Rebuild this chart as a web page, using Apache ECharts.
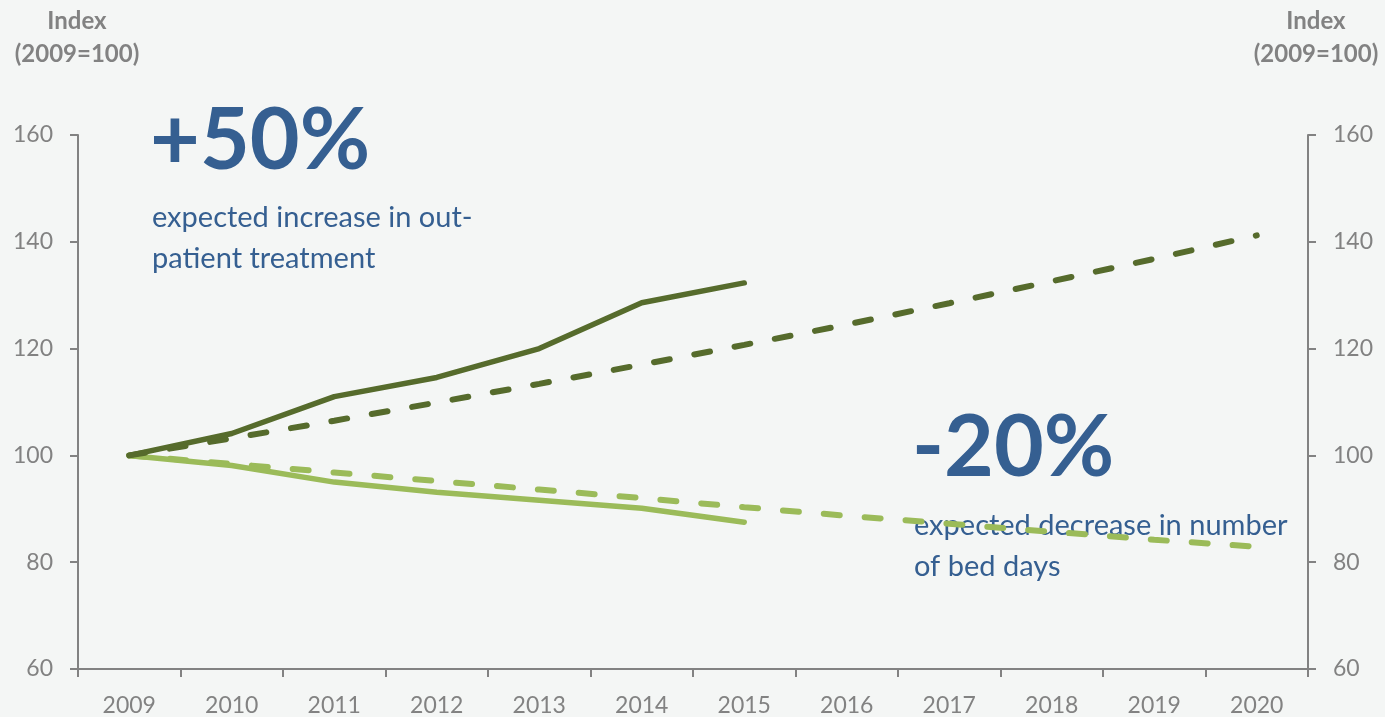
<!DOCTYPE html>
<html><head><meta charset="utf-8">
<script src="https://cdn.jsdelivr.net/npm/echarts@6/dist/echarts.min.js"></script>
<style>html,body{margin:0;padding:0;background:#F4F6F5;}#c{width:1385px;height:717px;}</style>
</head><body><div id="c"></div>
<script>
const years = ['2009','2010','2011','2012','2013','2014','2015','2016','2017','2018','2019','2020'];
const outpatientActual = [100, 104.1, 111.0, 114.6, 120.0, 128.6, 132.3];
const outpatientForecast = [100, 103.2, 106.5, 109.9, 113.4, 117.0, 120.7, 124.5, 128.5, 132.6, 136.8, 141.2];
const bedDaysActual = [100, 98.1, 95.0, 93.1, 91.6, 90.1, 87.5];
const bedDaysForecast = [100, 98.4, 96.8, 95.2, 93.6, 92.0, 90.3, 88.7, 87.2, 85.7, 84.2, 82.9];
const yTicks = {min: 60, max: 160, interval: 20};

const dark = '#566B2C', light = '#9BBB59', blue = '#355F91', gray = '#828282';
const chart = echarts.init(document.getElementById('c'), null, {renderer: 'canvas'});
const yAxisBase = (pos) => ({
  type: 'value', position: pos, min: yTicks.min, max: yTicks.max, interval: yTicks.interval,
  splitLine: {show: false},
  axisLine: {show: true, lineStyle: {color: gray, width: 2}},
  axisTick: {show: true, inside: false, length: 8, lineStyle: {color: gray, width: 2}},
  axisLabel: {color: gray, fontSize: 23, fontFamily: 'Lato', margin: 25}
});
const dash = [16, 25];
chart.setOption({
  backgroundColor: '#F4F6F5',
  animation: false,
  grid: {left: 78, right: 77, top: 135, bottom: 47, containLabel: false},
  xAxis: {
    type: 'category', data: years, boundaryGap: true,
    axisLine: {lineStyle: {color: gray, width: 2}},
    axisTick: {show: true, length: 8, lineStyle: {color: gray, width: 2}},
    axisLabel: {color: gray, fontSize: 23, fontFamily: 'Lato', margin: 25}
  },
  yAxis: [yAxisBase('left'), yAxisBase('right')],
  series: [
    {type: 'line', data: bedDaysForecast, showSymbol: false, lineStyle: {color: light, width: 6, type: dash, cap: 'round'}, z: 2},
    {type: 'line', data: bedDaysActual, showSymbol: false, lineStyle: {color: light, width: 5.5, cap: 'round'}, z: 2},
    {type: 'line', data: outpatientForecast, showSymbol: false, lineStyle: {color: dark, width: 6, type: dash, cap: 'round'}, z: 3},
    {type: 'line', data: outpatientActual, showSymbol: false, lineStyle: {color: dark, width: 5.5, cap: 'round'}, z: 3}
  ],
  graphic: [
    {type: 'text', style: {text: 'Index\n(2009=100)', x: 77, y: 5, align: 'center', fill: gray, font: 'bold 24px Lato', lineHeight: 33}},
    {type: 'text', style: {text: 'Index\n(2009=100)', x: 1316, y: 5, align: 'center', fill: gray, font: 'bold 24px Lato', lineHeight: 33}},
    {type: 'text', style: {text: '+50%', x: 150, y: 98, fill: blue, font: 'bold 86px Lato'}},
    {type: 'text', style: {text: 'expected increase in out-\npatient treatment', x: 152, y: 197, fill: blue, font: '29px Lato', lineHeight: 41}},
    {type: 'text', style: {text: '-20%', x: 912, y: 405, fill: blue, font: 'bold 86px Lato'}},
    {type: 'text', style: {text: 'expected decrease in number\nof bed days', x: 914, y: 505, fill: blue, font: '29px Lato', lineHeight: 41}}
  ]
});
</script></body></html>
